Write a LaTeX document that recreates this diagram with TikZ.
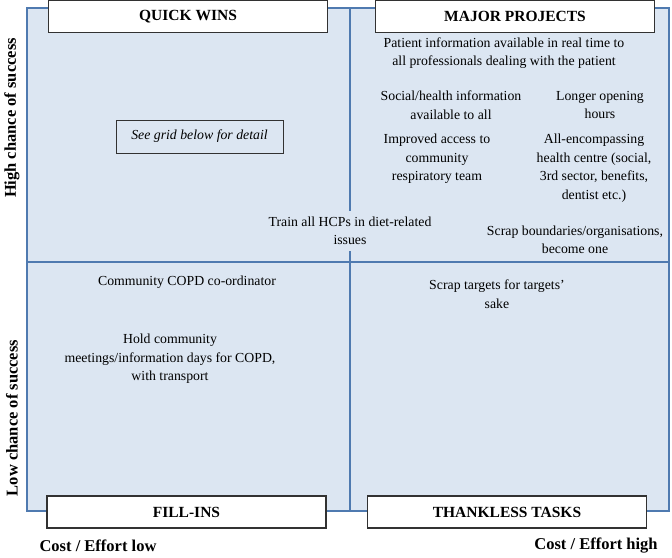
\documentclass[tikz,border=0pt]{standalone}
\usepackage{fontspec}
\setmainfont{Liberation Serif}
\usepackage{tikz}

\definecolor{quadfill}{RGB}{220,230,242}
\definecolor{quadline}{RGB}{79,122,176}
\definecolor{boxline}{RGB}{50,50,50}

\begin{document}
\begin{tikzpicture}[x=1pt,y=1pt,yscale=-1,xscale=1,
  quadtext/.style={align=center,inner sep=0.75pt,font=\fontsize{13.8}{18.5}\selectfont},
  headbox/.style={draw=boxline,fill=white,line width=1.3pt,minimum width=279pt,minimum height=32pt,inner sep=0pt,font=\fontsize{15.5}{18}\selectfont\bfseries},
  axislabel/.style={inner sep=0.75pt,font=\fontsize{16.5}{19}\selectfont\bfseries}]
  %set diagram left start at 0, and has height of 557
  \path[use as bounding box] (0,0) rectangle (672,557);

  %Shape: Rectangle (quadrants)
  \draw [draw=quadline,fill=quadfill,line width=1.2pt] (27,8) rectangle (669,511);
  %Straight Lines (dividers)
  \draw [quadline,line width=1.2pt] (350,8) -- (350,511);
  \draw [quadline,line width=1.2pt] (27,262) -- (669,262);

  % Heading boxes
  \node [headbox] (quickwins) at (188,16.5) {QUICK WINS};
  \node [headbox] (majorproj) at (515,16.5) {MAJOR PROJECTS};
  \node [headbox] (fillins) at (186.5,512) {FILL-INS};
  \node [headbox] (thankless) at (507,512) {THANKLESS TASKS};

  % Axis labels
  \node [axislabel,rotate=90] (highchance) at (12,118) {High chance of success};
  \node [axislabel,rotate=90] (lowchance) at (12,418) {Low chance of success};
  \node [axislabel] (costlow) at (98,546) {Cost / Effort low};
  \node [axislabel] (costhigh) at (596,546) {Cost / Effort high};

  % Quick wins
  \node [draw=boxline,line width=1pt,minimum width=167pt,minimum height=33pt,font=\fontsize{13.8}{18}\selectfont\itshape] (seegrid) at (199.5,136.5) {See grid below for detail};

  % Major projects
  \node [quadtext] (realtime) at (504,53) {Patient information available in real time to\\all professionals dealing with the patient};
  \node [quadtext] (socialinfo) at (451,105) {Social/health information\\available to all};
  \node [quadtext] (opening) at (600,105) {Longer opening\\hours};
  \node [quadtext] (respteam) at (437,159) {Improved access to\\community\\respiratory team};
  \node [quadtext] (healthcentre) at (594,168) {All-encompassing\\health centre (social,\\3rd sector, benefits,\\dentist etc.)};
  \node [quadtext] (scrapbound) at (575,240) {Scrap boundaries/organisations,\\become one};
  \node [quadtext,fill=quadfill,inner sep=6pt] (trainhcp) at (350,231) {Train all HCPs in diet-related\\issues};

  % Fill-ins
  \node [quadtext] (coordinator) at (187,282) {Community COPD co-ordinator};
  \node [quadtext] (meetings) at (170,359) {Hold community\\meetings/information days for COPD,\\with transport};

  % Thankless tasks
  \node [quadtext] (scraptargets) at (497,294) {Scrap targets for targets'\\sake};

\end{tikzpicture}
\end{document}
